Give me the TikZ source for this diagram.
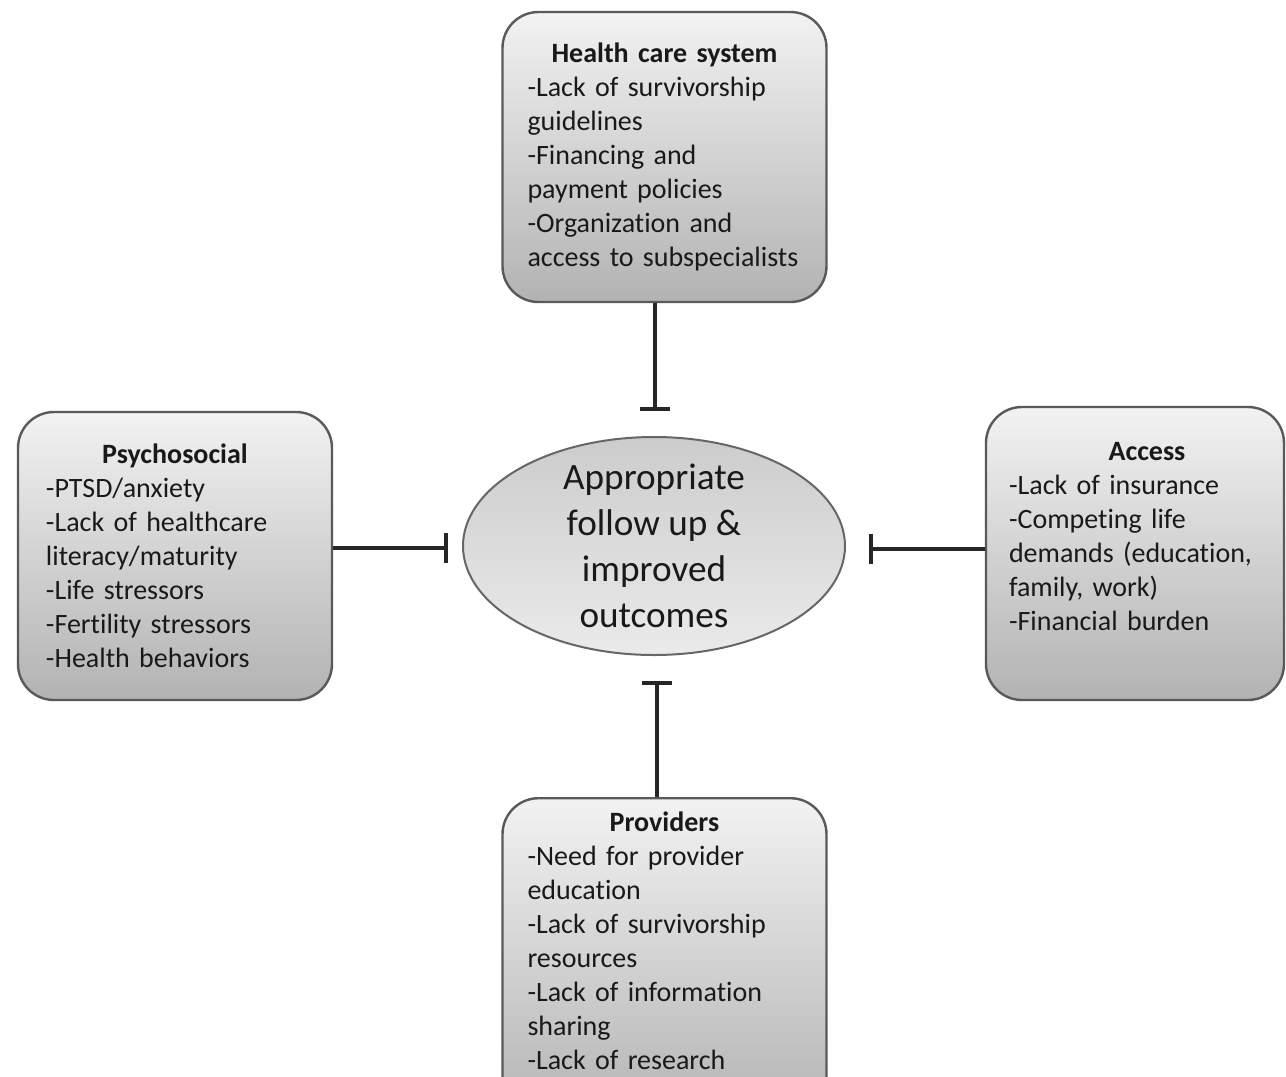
\documentclass[tikz,border=0pt]{standalone}
\usepackage{fontspec}
\setmainfont{Carlito}[Ligatures=NoCommon]
\usepackage{tikz}
\usetikzlibrary{arrows.meta}
\usetikzlibrary{shapes.geometric}
\usetikzlibrary{calc}
\tikzset{box/.style={draw=black!65, line width=1.2pt, rounded corners=18pt,
      top color=black!5, bottom color=black!30, text=black!90,
      align=left, inner xsep=12.5pt,
      font=\fontsize{14}{17}\selectfont},
      goal/.style={ellipse, draw=black!60, line width=1pt,
      top color=black!20, bottom color=black!8, text=black!90,
      align=center, inner xsep=0pt, inner ysep=-5pt,
      minimum width=191pt, minimum height=109pt,
      font=\fontsize{18.6}{23}\selectfont},
      block/.style={draw=black!85, line width=2pt, -{Bar[width=15pt]}}}
\newcommand\boxtitle[1]{{\centering\bfseries #1\par}}

\begin{document}
\begin{tikzpicture}[x=0.5pt, y=-0.5pt]
          \path[use as bounding box, clip] (0,0) rectangle (1286,1077);
          \node[goal] (out) at (654,546) {Appropriate\\follow up \&\\improved\\outcomes};
          \node[box, text width=137pt, minimum height=145pt] (hcs) at (664.5,157)
               {\boxtitle{Health care system}-Lack of survivorship\\guidelines\\-Financing and\\payment policies\\-Organization and\\access to subspecialists};
          \node[box, inner xsep=14pt, text width=129pt, minimum height=144pt] (psy) at (175,556)
               {\boxtitle{Psychosocial}-PTSD/anxiety\\-Lack of healthcare\\literacy/maturity\\-Life stressors\\-Fertility stressors\\-Health behaviors};
          \node[box, inner xsep=11.5pt, text width=126pt, minimum height=146.5pt] (acc) at (1135,553.5)
               {\boxtitle{\hspace*{12pt}Access}-Lack of insurance\\-Competing life\\demands (education,\\family, work)\\-Financial burden\par\vspace*{17pt}};
          \node[box, text width=137pt, inner ysep=6.7pt, anchor=north] (prov) at (664.5,797)
               {\boxtitle{Providers}-Need for provider\\education\\-Lack of survivorship\\resources\\-Lack of information\\sharing\\-Lack of research\par\vspace*{20pt}};
          \coordinate (hcsend) at ($(out.north)+(1,-25)$);
          \coordinate (psyend) at ($(out.west)+(-14,2)$);
          \coordinate (accend) at ($(out.east)+(23,3)$);
          \coordinate (provend) at ($(out.south)+(3,25)$);
          \draw[block] (hcs.south -| hcsend) -- (hcsend);
          \draw[block] (psy.east |- psyend) -- (psyend);
          \draw[block] (acc.west |- accend) -- (accend);
          \draw[block] (prov.north -| provend) -- (provend);
       \end{tikzpicture}
\end{document}
